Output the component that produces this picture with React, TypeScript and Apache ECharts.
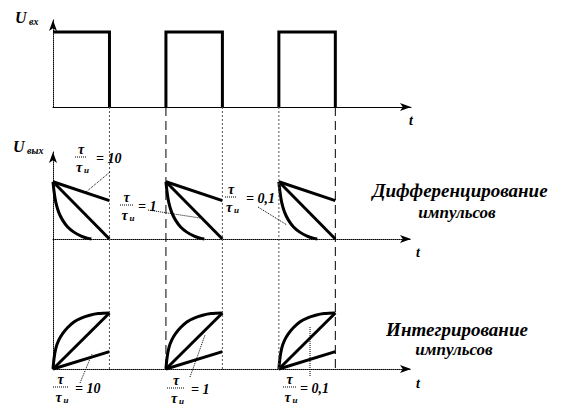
import React, { useEffect, useRef } from 'react';
import * as echarts from 'echarts';

// ---- data (time in pulse-width units, voltage normalised to pulse height) ----
const axisMaxT = 6.34;
const pulseStarts = [0, 2, 4];

// input pulses
const inputT1 = [0, 1, 1];
const inputV1 = [1, 1, 0];
const inputT2 = [2, 2, 3, 3];
const inputV2 = [0, 1, 1, 0];
const inputT3 = [4, 4, 5, 5];
const inputV3 = [0, 1, 1, 0];

// differentiation (time relative to pulse start)
const diffSlowT = [0, 1];
const diffSlowV = [1, 0.67];
const diffMidT = [0, 1];
const diffMidV = [1, 0];
const diffFastT = [0, 0.02, 0.05, 0.1, 0.17, 0.26, 0.37, 0.5, 0.62, 0.68];
const diffFastV = [1, 0.82, 0.64, 0.47, 0.33, 0.21, 0.12, 0.05, 0.01, 0];

// integration (time relative to pulse start)
const integSlowT = [0, 1];
const integSlowV = [0, 0.31];
const integMidT = [0, 1];
const integMidV = [0, 1];
const integFastT = [0, 0.02, 0.05, 0.1, 0.17, 0.26, 0.37, 0.5, 0.65, 0.8, 1];
const integFastV = [0, 0.2, 0.37, 0.51, 0.63, 0.74, 0.84, 0.91, 0.96, 0.99, 1];

// guide lines
const guideTimes = [1, 2, 3, 4, 5];
const guideDashed = [false, true, false, false, true];

// texts
const ratioLabels = ['10', '1', '0,1'];
const diffTitle = ['Дифференцирование', 'импульсов'];
const integTitle = ['Интегрирование', 'импульсов'];

const FONT = 'Liberation Serif';

function pts(ts: number[], vs: number[], offset = 0) {
  return ts.map((t, i) => [t + offset, vs[i]]);
}

function lineSeries(data: number[][], grid: number, smooth: number | boolean = false) {
  return {
    type: 'line',
    xAxisIndex: grid,
    yAxisIndex: grid,
    data,
    showSymbol: false,
    symbol: 'none',
    smooth,
    clip: false,
    lineStyle: { color: '#000', width: 3, join: 'miter', cap: 'butt' },
    silent: true,
  };
}

function txt(x: number, y: number, text: string, size: number, align = 'left') {
  return {
    type: 'text',
    x,
    y,
    z: 20,
    silent: true,
    style: {
      text,
      fontFamily: FONT,
      fontStyle: 'italic',
      fontWeight: 'bold',
      fontSize: size,
      fill: '#000',
      align,
      verticalAlign: 'middle',
    },
  };
}

function seg(x1: number, y1: number, x2: number, y2: number, dash: number[] | null, width = 1, color = '#000') {
  return {
    type: 'line',
    z: 5,
    silent: true,
    shape: { x1, y1, x2, y2 },
    style: { stroke: color, lineWidth: width, lineDash: dash || undefined },
  };
}

function frac(cx: number, barY: number, barW: number, eqX: number, value: string) {
  return [
    txt(cx, barY - 8, 'τ', 14, 'center'),
    seg(cx - barW / 2, barY, cx + barW / 2, barY, [1, 1]),
    txt(cx - 2, barY + 10, 'τ', 14, 'center'),
    txt(cx + 3, barY + 13, 'и', 9, 'left'),
    txt(eqX, barY + 1, '= ' + value, 14, 'left'),
  ];
}

function makeAxes() {
  const grids = [
    { left: 53, width: 358, top: 20, height: 87 },
    { left: 53, width: 358, top: 152, height: 87 },
    { left: 53, width: 358, top: 239, height: 130 },
  ];
  const yMax = [1.16, 1.52, 2.32];
  const xAxis = grids.map((_, i) => ({
    type: 'value',
    gridIndex: i,
    min: 0,
    max: axisMaxT,
    axisLine: {
      show: true,
      onZero: false,
      symbol: ['none', 'arrow'],
      symbolSize: [6, 11],
      lineStyle: { color: '#000', width: 1, type: i === 0 ? 'solid' : 'dotted' },
    },
    axisTick: { show: false },
    axisLabel: { show: false },
    splitLine: { show: false },
  }));
  const yAxis = grids.map((_, i) => ({
    type: 'value',
    gridIndex: i,
    min: 0,
    max: yMax[i],
    axisLine: {
      show: true,
      onZero: false,
      symbol: i === 2 ? ['none', 'none'] : ['none', 'arrow'],
      symbolSize: [6, 11],
      lineStyle: { color: '#000', width: 1, type: 'dotted' },
    },
    axisTick: { show: false },
    axisLabel: { show: false },
    splitLine: { show: false },
  }));
  return { grids, xAxis, yAxis };
}

export default function App() {
  const ref = useRef<HTMLDivElement>(null);

  useEffect(() => {
    if (!ref.current) return;
    const chart = echarts.init(ref.current, undefined, { renderer: 'svg' });
    const { grids, xAxis, yAxis } = makeAxes();

    const series: any[] = [];
    series.push(lineSeries(pts(inputT1, inputV1), 0));
    series.push(lineSeries(pts(inputT2, inputV2), 0));
    series.push(lineSeries(pts(inputT3, inputV3), 0));
    pulseStarts.forEach((s) => {
      series.push(lineSeries(pts(diffSlowT, diffSlowV, s), 1));
      series.push(lineSeries(pts(diffMidT, diffMidV, s), 1));
      series.push(lineSeries(pts(diffFastT, diffFastV, s), 1, 0.3));
      series.push(lineSeries(pts(integSlowT, integSlowV, s), 2));
      series.push(lineSeries(pts(integMidT, integMidV, s), 2));
      series.push(lineSeries(pts(integFastT, integFastV, s), 2, 0.3));
    });

    chart.setOption({
      animation: false,
      backgroundColor: '#fff',
      grid: grids,
      xAxis,
      yAxis,
      series,
    });

    const graphic: any[] = [];
    guideTimes.forEach((t, i) => {
      const p1 = chart.convertToPixel({ gridIndex: 0 }, [t, 0]) as number[];
      const p2 = chart.convertToPixel({ gridIndex: 2 }, [t, 0]) as number[];
      graphic.push(
        seg(p1[0], p1[1], p2[0], p2[1], guideDashed[i] ? [9, 5] : [2, 2], 1, guideDashed[i] ? '#000' : '#555')
      );
    });

    // axis labels
    graphic.push(txt(15, 17, 'U', 16));
    graphic.push(txt(29, 21, 'вх', 10));
    graphic.push(txt(13, 146, 'U', 16));
    graphic.push(txt(27, 150, 'вых', 10));
    graphic.push(txt(411, 120, 't', 14, 'center'));
    graphic.push(txt(418, 252, 't', 14, 'center'));
    graphic.push(txt(418, 383, 't', 14, 'center'));

    // ratio labels, differentiation
    graphic.push(...frac(81, 157, 12, 96, ratioLabels[0]));
    graphic.push(...frac(126.5, 205, 13, 138, ratioLabels[1]));
    graphic.push(...frac(231, 197, 12, 246, ratioLabels[2]));
    // ratio labels, integration
    graphic.push(...frac(60.5, 387, 15, 75, ratioLabels[0]));
    graphic.push(...frac(176, 388, 18, 191, ratioLabels[1]));
    graphic.push(...frac(289.5, 387, 13, 300, ratioLabels[2]));

    // leader lines
    graphic.push(seg(110, 172, 86, 192, [1, 1]));
    graphic.push(seg(148, 210, 200, 218, [1, 1]));
    graphic.push(seg(258, 207, 287, 225, [1, 1]));
    graphic.push(seg(80, 383, 92, 354, [1, 1]));
    graphic.push(seg(190, 377, 205, 335, [1, 1]));
    graphic.push(seg(310, 376, 310, 326, [1, 1]));

    // titles
    graphic.push(txt(460, 190, diffTitle[0], 19, 'center'));
    graphic.push(txt(457, 212, diffTitle[1], 17, 'center'));
    graphic.push(txt(457, 329, integTitle[0], 19, 'center'));
    graphic.push(txt(454, 349, integTitle[1], 17, 'center'));

    chart.setOption({ graphic });

    return () => chart.dispose();
  }, []);

  return (
    <div
      ref={ref}
      style={{ position: 'fixed', left: 0, top: 0, width: 566, height: 414, background: '#fff' }}
    />
  );
}
